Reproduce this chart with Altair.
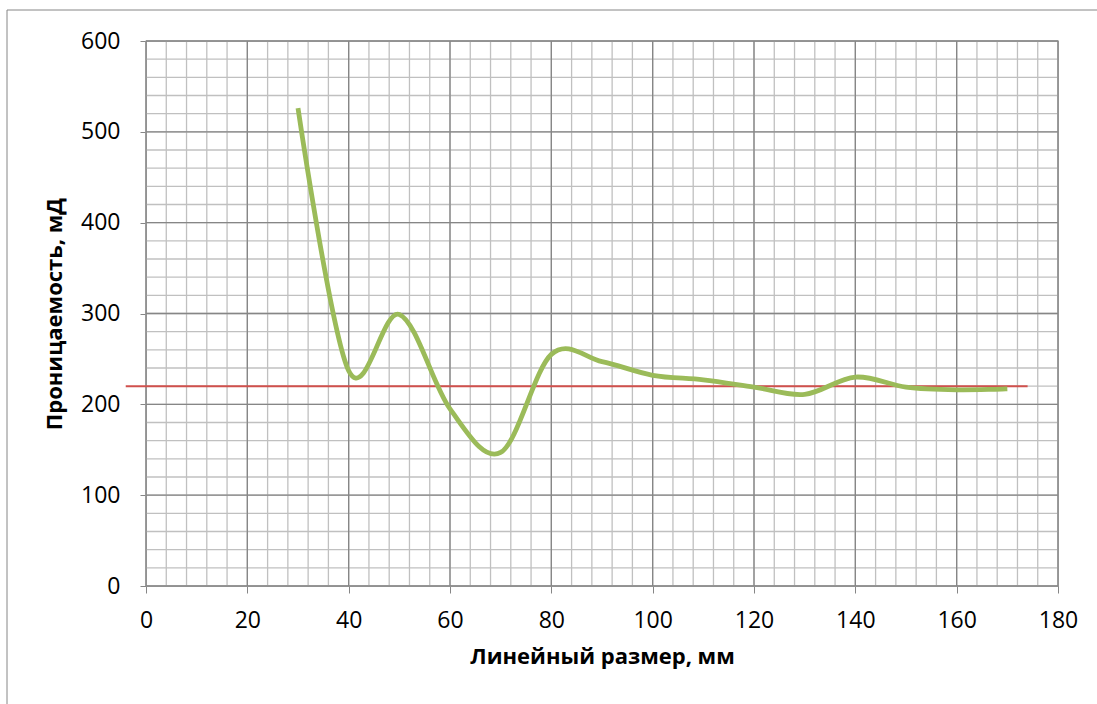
import altair as alt
import pandas as pd

# ---- data ----
x_mm = [30, 40, 50, 60, 70, 80, 90, 100, 110, 120, 130, 140, 150, 160, 170]
perm_md = [526, 237, 299, 195, 147, 255, 247, 232, 227, 219, 211, 230, 219, 216, 217]
avg_x = [-4, 174]
avg_y = [220, 220]

x_major = [0, 20, 40, 60, 80, 100, 120, 140, 160, 180]
y_major = [0, 100, 200, 300, 400, 500, 600]
x_minor = list(range(0, 181, 4))
y_minor = list(range(0, 601, 20))

FONT = "Open Sans"
MAJOR = "#868686"
MINOR = "#c0c0c0"

curve_df = pd.DataFrame({"x": x_mm, "y": perm_md})
avg_df = pd.DataFrame({"x": avg_x, "y": avg_y})
frame_df = pd.DataFrame({"k": [0]})
vx_minor = pd.DataFrame({"x": x_minor})
hy_minor = pd.DataFrame({"y": y_minor})
vx_major = pd.DataFrame({"x": x_major})
hy_major = pd.DataFrame({"y": y_major})

x_scale = alt.Scale(domain=[0, 180], nice=False, zero=False)
y_scale = alt.Scale(domain=[0, 600], nice=False, zero=False)

x_axis = alt.Axis(
    values=x_major,
    grid=False,
    tickColor=MAJOR,
    tickSize=7,
    domainColor=MAJOR,
    labelFont=FONT,
    labelFontSize=23,
    labelColor="#000000",
    labelPadding=16,
    labelFlush=False,
    labelOverlap=False,
    title="Линейный размер, мм",
    titleFont=FONT,
    titleFontSize=22,
    titleFontWeight="bold",
    titleColor="#000000",
    titleY=60,
)

y_axis = alt.Axis(
    values=y_major,
    grid=False,
    tickColor=MAJOR,
    tickSize=6,
    domainColor=MAJOR,
    labelFont=FONT,
    labelFontSize=23,
    labelColor="#000000",
    labelPadding=20,
    labelFlush=False,
    labelOverlap=False,
    title="Проницаемость, мД",
    titleFont=FONT,
    titleFontSize=22,
    titleFontWeight="bold",
    titleColor="#000000",
    titleX=-80,
)

X = lambda: alt.X("x:Q", scale=x_scale, axis=x_axis)
Y = lambda: alt.Y("y:Q", scale=y_scale, axis=y_axis)

vminor = alt.Chart(vx_minor).mark_rule(color=MINOR, strokeWidth=1.3).encode(x=X())
hminor = alt.Chart(hy_minor).mark_rule(color=MINOR, strokeWidth=1.3).encode(y=Y())
vmajor = alt.Chart(vx_major).mark_rule(color=MAJOR, strokeWidth=1.3).encode(x=X())
hmajor = alt.Chart(hy_major).mark_rule(color=MAJOR, strokeWidth=1.3).encode(y=Y())

curve = alt.Chart(curve_df).mark_line(
    color="#9bbb59", strokeWidth=4.8, interpolate="cardinal", strokeCap="butt"
).encode(x=X(), y=Y())

avg = alt.Chart(avg_df).mark_line(color="#d0504d", strokeWidth=2).encode(x=X(), y=Y())

frame = alt.Chart(frame_df).mark_rect(
    fill="transparent", stroke="#868686", strokeWidth=1
).encode(
    x=alt.value(-139), x2=alt.value(960),
    y=alt.value(-31), y2=alt.value(670),
)

chart = alt.layer(frame, vminor, hminor, vmajor, hmajor, avg, curve).properties(
    width=912,
    height=545,
    padding={"left": 146, "top": 41, "right": 39, "bottom": 118},
    autosize=alt.AutoSizeParams(type="none"),
    background="white",
).configure_view(stroke=MAJOR, strokeWidth=1.3)

chart.save("out.html", embed_options={"renderer": "svg", "actions": False})
